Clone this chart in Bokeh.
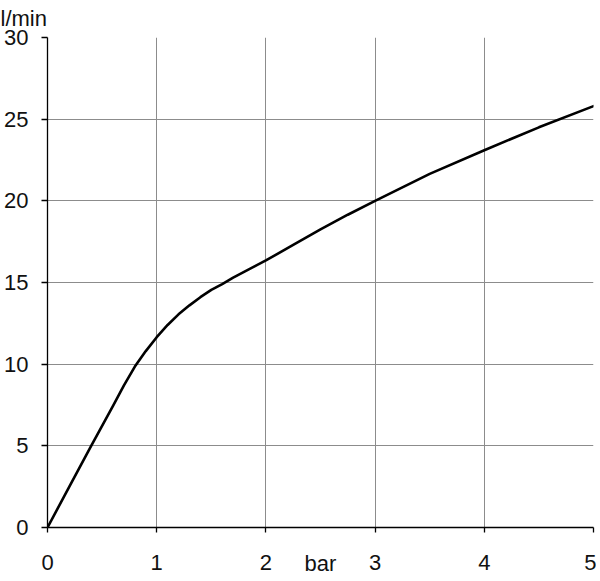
from bokeh.plotting import figure
from bokeh.models import Range1d, FixedTicker, Title
from bokeh.embed import file_html
from bokeh.resources import INLINE

# Data
pressure_bar = [0, 0.2, 0.4, 0.6, 0.7, 0.8, 0.9, 1.0, 1.1, 1.2, 1.3, 1.4, 1.5, 1.6, 1.7,
                1.8, 1.9, 2.0, 2.25, 2.5, 2.75, 3.0, 3.5, 4.0, 4.5, 5.0]
flow_lmin = [0, 2.5, 5.0, 7.45, 8.7, 9.85, 10.8, 11.65, 12.4, 13.05, 13.6, 14.1, 14.55, 14.9, 15.3,
             15.65, 16.0, 16.35, 17.3, 18.25, 19.15, 20.0, 21.65, 23.1, 24.5, 25.8]
x_ticks = [0, 1, 2, 3, 4, 5]
y_ticks = [0, 5, 10, 15, 20, 25, 30]
x_grid = [1, 2, 3, 4]
y_grid = [5, 10, 15, 20, 25]
x_label = "bar"
y_label = "l/min"

FONT = "Liberation Sans"
TXT = "#111111"

p = figure(width=596, height=581, output_backend="svg", toolbar_location=None,
           x_range=Range1d(0, 5), y_range=Range1d(0, 30),
           min_border_left=47, min_border_right=3, min_border_top=37, min_border_bottom=54)
p.outline_line_color = None
p.background_fill_color = "white"
p.border_fill_color = "white"

p.line(pressure_bar, flow_lmin, line_color="black", line_width=2.6, line_join="round", line_cap="round")

for ax, ticks in ((p.xaxis[0], x_ticks), (p.yaxis[0], y_ticks)):
    ax.ticker = FixedTicker(ticks=ticks)
    ax.minor_tick_line_color = None
    ax.major_tick_in = 0
    ax.axis_line_color = "black"
    ax.axis_line_width = 1.3
    ax.major_tick_line_color = "black"
    ax.major_tick_line_width = 1.3
    ax.major_label_text_font = FONT
    ax.major_label_text_font_size = "22px"
    ax.major_label_text_color = TXT

p.xaxis[0].major_tick_out = 5
p.xaxis[0].major_label_standoff = 22
p.yaxis[0].major_tick_out = 6
p.yaxis[0].major_label_standoff = 13

p.xaxis[0].axis_label = x_label
p.xaxis[0].axis_label_text_font = FONT
p.xaxis[0].axis_label_text_font_size = "22px"
p.xaxis[0].axis_label_text_font_style = "normal"
p.xaxis[0].axis_label_text_color = TXT
p.xaxis[0].axis_label_standoff = -22

p.title = Title(text=y_label, align="left", offset=-47, standoff=9, vertical_align="top",
                text_font=FONT, text_font_size="22px", text_font_style="normal", text_color=TXT)

p.xgrid[0].ticker = FixedTicker(ticks=x_grid)
p.ygrid[0].ticker = FixedTicker(ticks=y_grid)
for g in (p.xgrid[0], p.ygrid[0]):
    g.grid_line_color = "#8c8c8c"
    g.grid_line_width = 1

open("out.html", "w").write(file_html(p, INLINE))
